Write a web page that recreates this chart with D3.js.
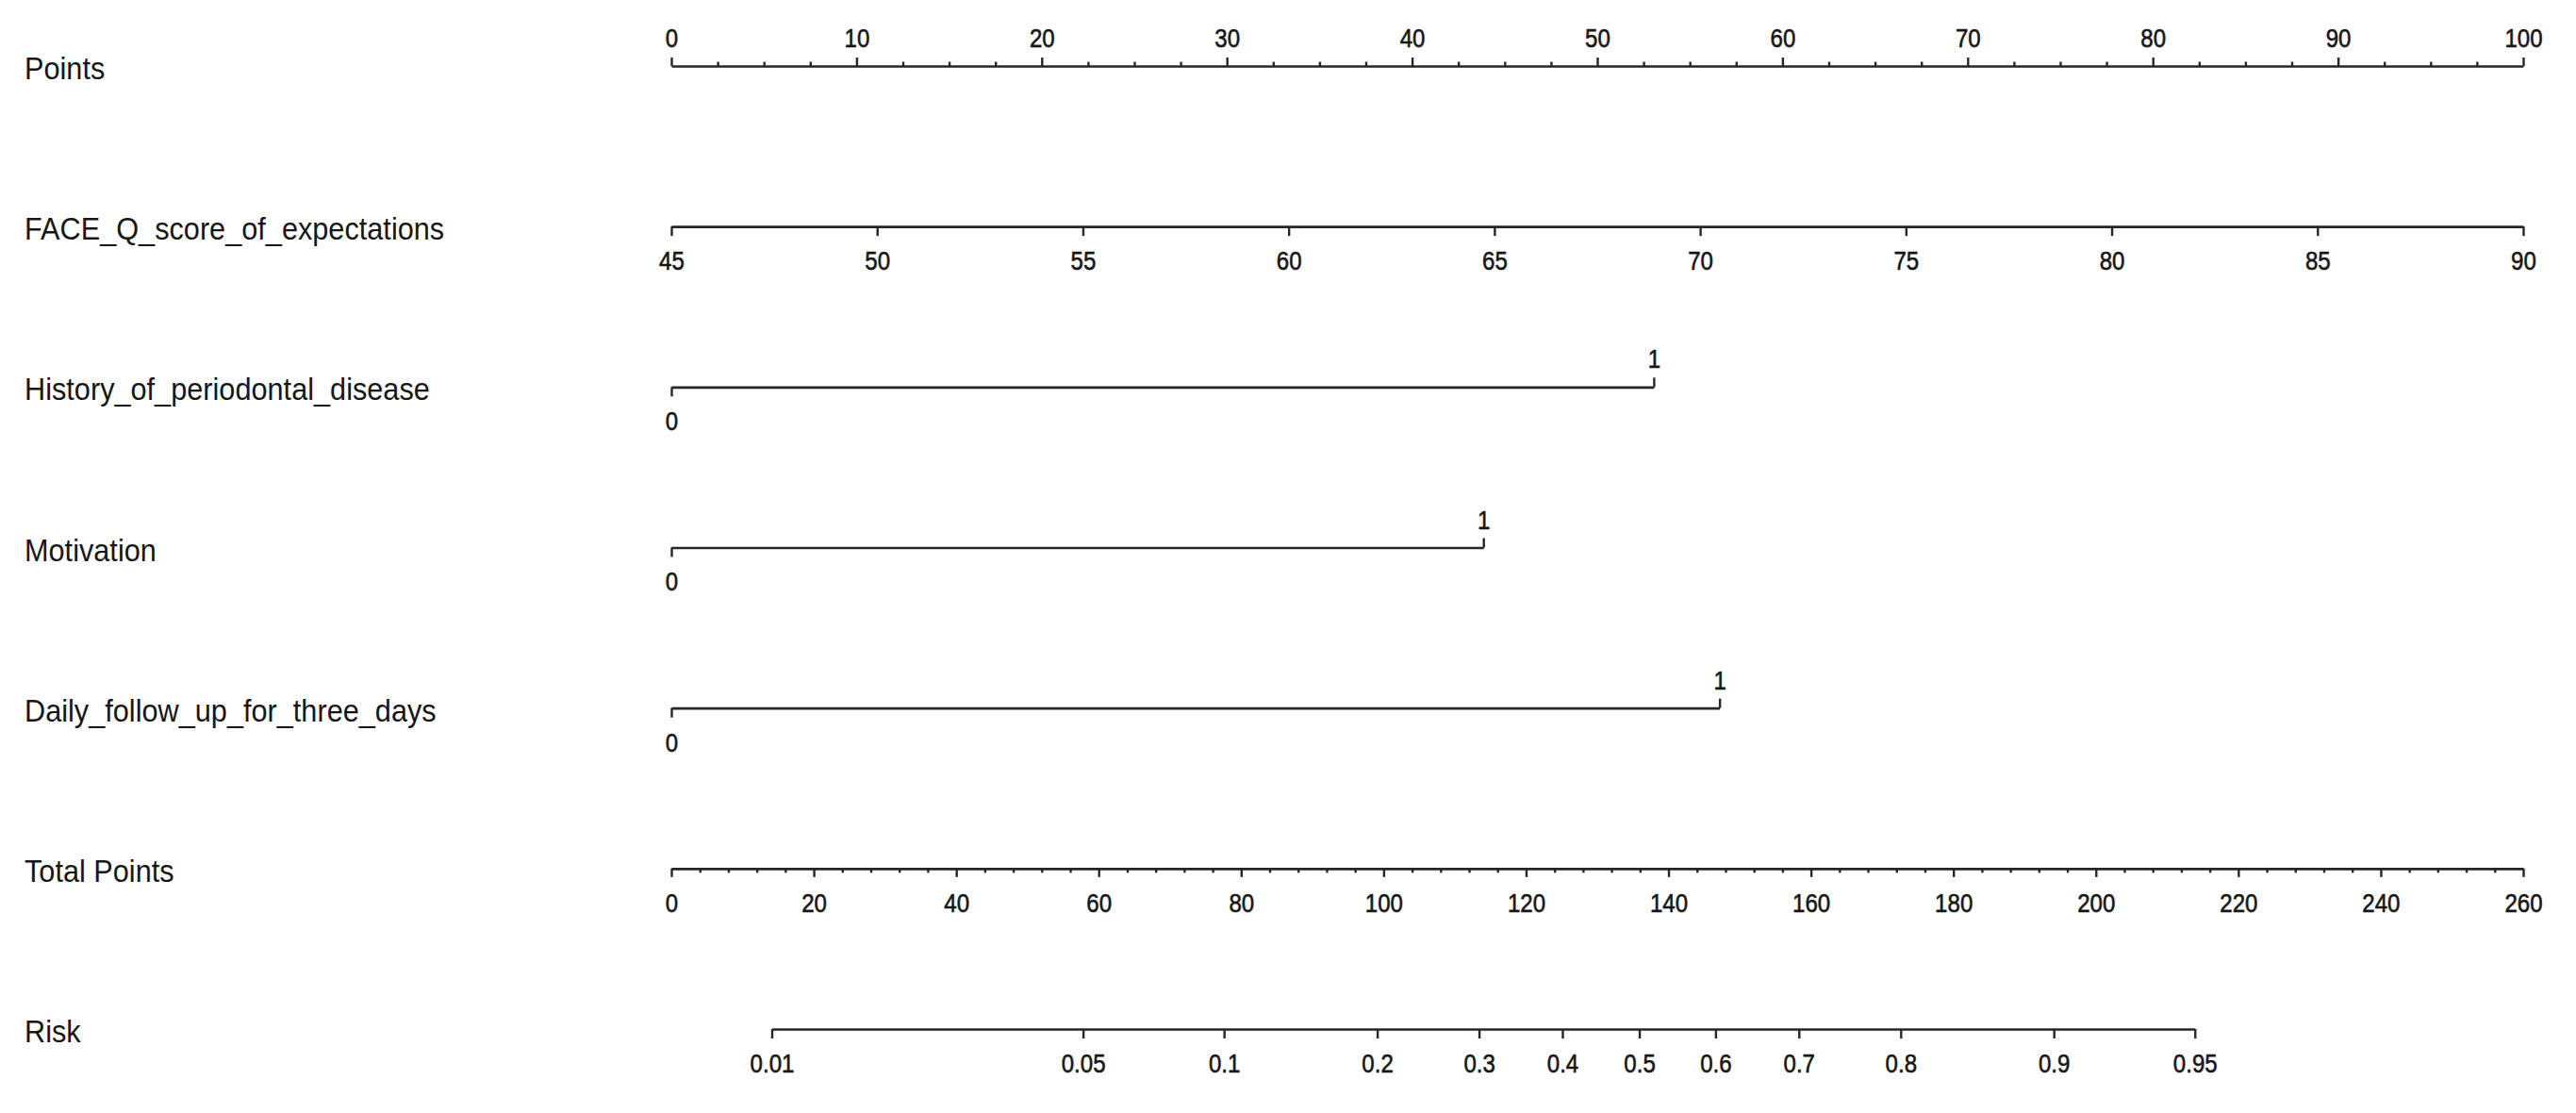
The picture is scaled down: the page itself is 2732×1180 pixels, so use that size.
<!DOCTYPE html>
<html>
<head>
<meta charset="utf-8">
<script src="https://cdn.jsdelivr.net/npm/d3@7"></script>
<style>
  html, body { margin: 0; padding: 0; background: #ffffff; }
  svg { display: block; }
</style>
</head>
<body>
<svg id="chart" width="2732" height="1180"></svg>
<script>
// ---------------- DATA ----------------
const rowLabels = [
  "Points",
  "FACE_Q_score_of_expectations",
  "History_of_periodontal_disease",
  "Motivation",
  "Daily_follow_up_for_three_days",
  "Total Points",
  "Risk"
];
const pointsTicks = [0, 10, 20, 30, 40, 50, 60, 70, 80, 90, 100];
const faceQTicks = [45, 50, 55, 60, 65, 70, 75, 80, 85, 90];
const binaryVars = ["History_of_periodontal_disease", "Motivation", "Daily_follow_up_for_three_days"];
const binaryLevels = ["0", "1"];
const binaryPointsAt1 = [53.05, 43.85, 56.6];
const totalTicks = [0, 20, 40, 60, 80, 100, 120, 140, 160, 180, 200, 220, 240, 260];
const riskLabels = ["0.01", "0.05", "0.1", "0.2", "0.3", "0.4", "0.5", "0.6", "0.7", "0.8", "0.9", "0.95"];
const riskTotalPoints = [14.1, 57.8, 77.6, 99.1, 113.4, 125.1, 135.9, 146.6, 158.3, 172.6, 194.1, 213.9];

// ---------------- LAYOUT ----------------
const svg = d3.select("#chart");
const X0 = 712, X1 = 2676;
const rowY = d3.scalePoint().domain(rowLabels).range([70, 1091]);
const LINE = "#262626";
const TXT = "#161616";
const tickFont = "'Liberation Sans', Arial, sans-serif";

const xPoints = d3.scaleLinear().domain([0, 100]).range([X0, X1]);
const xFace = d3.scaleLinear().domain([45, 90]).range([X0, X1]);
const xTotal = d3.scaleLinear().domain([0, 260]).range([X0, X1]);

// row labels
svg.append("g").selectAll("text").data(rowLabels).join("text")
  .attr("transform", d => `translate(26,${rowY(d) + 14}) scale(0.93,1)`)
  .attr("font-family", tickFont)
  .attr("font-size", 33)
  .attr("fill", TXT)
  .text(d => d);

function styleAxis(g, keepDomain) {
  g.selectAll(".domain").attr("stroke", LINE).attr("stroke-width", 2.6);
  if (!keepDomain) g.select(".domain").remove();
  g.selectAll(".tick line").attr("stroke", LINE).attr("stroke-width", 2.4);
  g.selectAll(".tick text")
    .attr("font-family", tickFont)
    .attr("font-size", 28)
    .attr("fill", TXT)
    .attr("stroke", TXT)
    .attr("stroke-width", 0.6)
    .attr("transform", "scale(0.86,1)");
  g.attr("font-family", null).attr("font-size", null);
}

function addTopAxis(scale, y, ticks, size, fmt, keepDomain) {
  const ax = d3.axisTop(scale).tickValues(ticks).tickSize(size).tickSizeOuter(0).tickPadding(20 - size);
  if (fmt) ax.tickFormat(fmt); else ax.tickFormat("");
  const g = svg.append("g").attr("transform", `translate(0,${y})`).call(ax);
  styleAxis(g, keepDomain);
  return g;
}
function addBottomAxis(scale, y, ticks, size, fmt, keepDomain) {
  const ax = d3.axisBottom(scale).tickValues(ticks).tickSize(size).tickSizeOuter(0).tickPadding(26 - size);
  if (fmt) ax.tickFormat(fmt); else ax.tickFormat("");
  const g = svg.append("g").attr("transform", `translate(0,${y})`).call(ax);
  styleAxis(g, keepDomain);
  return g;
}

// Points axis
const yP = rowY("Points");
addTopAxis(xPoints, yP, d3.range(0, 100.01, 2.5).filter(v => v % 10 !== 0), 4.5, null, false);
addTopAxis(xPoints, yP, pointsTicks, 9, d3.format("d"), true);

// FACE_Q axis
addBottomAxis(xFace, rowY("FACE_Q_score_of_expectations"), faceQTicks, 10, d3.format("d"), true);

// Binary variables
binaryVars.forEach((name, i) => {
  const s = d3.scaleLinear().domain([0, 1]).range([xPoints(0), xPoints(binaryPointsAt1[i])]);
  const y = rowY(name);
  addBottomAxis(s, y, [0], 10, d => binaryLevels[d], true);
  addTopAxis(s, y, [1], 10, d => binaryLevels[d], false);
});

// Total Points axis
const yT = rowY("Total Points");
addBottomAxis(xTotal, yT, d3.range(0, 260.01, 4).filter(v => v % 20 !== 0), 4.5, null, false);
addBottomAxis(xTotal, yT, totalTicks, 9, d3.format("d"), true);

// Risk axis
const xRisk = d3.scaleLinear()
  .domain([riskTotalPoints[0], riskTotalPoints[riskTotalPoints.length - 1]])
  .range([xTotal(riskTotalPoints[0]), xTotal(riskTotalPoints[riskTotalPoints.length - 1])]);
addBottomAxis(xRisk, rowY("Risk"), riskTotalPoints, 10, d => riskLabels[riskTotalPoints.indexOf(d)], true);
</script>
</body>
</html>
